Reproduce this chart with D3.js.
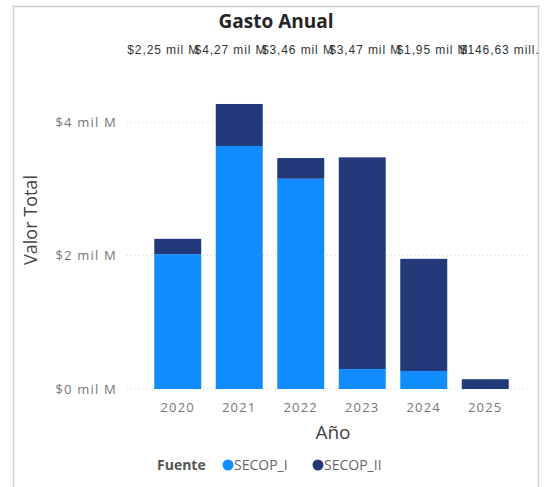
<!DOCTYPE html>
<html>
<head>
<meta charset="utf-8">
<script src="https://cdn.jsdelivr.net/npm/d3@7"></script>
<style>
  html, body { margin: 0; padding: 0; background: #fff; }
  svg { display: block; }
</style>
</head>
<body>
<svg id="chart" width="546" height="487"></svg>
<script>
const years = ["2020", "2021", "2022", "2023", "2024", "2025"];
const secopI = [2.02, 3.64, 3.15, 0.30, 0.27, 0];
const secopII = [0.23, 0.63, 0.31, 3.17, 1.68, 0.14663];
const totalLabels = ["$2,25 mil M", "$4,27 mil M", "$3,46 mil M", "$3,47 mil M", "$1,95 mil M", "$146,63 mill."];
const yTicks = [0, 2, 4];
const yTickLabels = ["$0 mil M", "$2 mil M", "$4 mil M"];
const seriesNames = ["SECOP_I", "SECOP_II"];
const colors = ["#118DFF", "#223A7A"];

const svg = d3.select("#chart");

// frame
svg.append("rect").attr("x", 13.5).attr("y", 6.5).attr("width", 525).attr("height", 500)
  .attr("fill", "none").attr("stroke", "#cfcfcf").attr("stroke-width", 1.5);

const x = d3.scaleBand().domain(years).range([147, 516]).paddingInner(0.236).paddingOuter(0.118);
const y = d3.scaleLinear().domain([0, 4]).range([389, 122]);

// gridlines
svg.append("g").selectAll("line").data(yTicks).join("line")
  .attr("x1", 127).attr("x2", 530)
  .attr("y1", d => y(d)).attr("y2", d => y(d))
  .attr("stroke", "#d6d6d6").attr("stroke-width", 1).attr("stroke-dasharray", "1,3");

// y tick labels
svg.append("g").selectAll("text").data(yTicks).join("text")
  .attr("x", 117).attr("y", d => y(d)).attr("dy", "0.35em")
  .attr("text-anchor", "end")
  .attr("font-family", "'Open Sans', sans-serif").attr("font-size", 13)
  .attr("letter-spacing", 1.2)
  .attr("fill", "#777")
  .text((d, i) => yTickLabels[i]);

// stacked data
const rows = years.map((yr, i) => ({ year: yr, SECOP_I: secopI[i], SECOP_II: secopII[i] }));
const stack = d3.stack().keys(seriesNames)(rows);

svg.append("g").selectAll("g").data(stack).join("g")
  .attr("fill", (d, i) => colors[i])
  .selectAll("rect").data(d => d).join("rect")
  .attr("x", d => x(d.data.year))
  .attr("width", x.bandwidth())
  .attr("y", d => y(d[1]))
  .attr("height", d => Math.max(0, y(d[0]) - y(d[1])));

// total labels (overlapping, as in reference)
svg.append("g").selectAll("text").data(years).join("text")
  .attr("x", (d, i) => x(d) + x.bandwidth() / 2 + (i - 2.5) * 5.8)
  .attr("y", 54)
  .attr("text-anchor", "middle")
  .attr("font-family", "'Liberation Sans', Arial, sans-serif").attr("font-size", 12)
  .attr("letter-spacing", 0.9)
  .attr("fill", "#333")
  .text((d, i) => totalLabels[i]);

// title
svg.append("text").attr("x", 276).attr("y", 28).attr("text-anchor", "middle")
  .attr("font-family", "'Open Sans', sans-serif").attr("font-size", 19).attr("font-weight", "bold")
  .attr("fill", "#252423").text("Gasto Anual");

// x tick labels
svg.append("g").selectAll("text").data(years).join("text")
  .attr("x", d => x(d) + x.bandwidth() / 2).attr("y", 412)
  .attr("text-anchor", "middle")
  .attr("font-family", "'Open Sans', sans-serif").attr("font-size", 13)
  .attr("letter-spacing", 1.2)
  .attr("fill", "#777").text(d => d);

// axis titles
svg.append("text").attr("x", 333).attr("y", 439).attr("text-anchor", "middle")
  .attr("font-family", "'Open Sans', sans-serif").attr("font-size", 19)
  .attr("fill", "#444").text("Año");

svg.append("text").attr("transform", "translate(37,220) rotate(-90)").attr("text-anchor", "middle")
  .attr("font-family", "'Open Sans', sans-serif").attr("font-size", 18)
  .attr("fill", "#444").text("Valor Total");

// legend
const lg = svg.append("g").attr("font-family", "'Open Sans', sans-serif").attr("font-size", 14);
lg.append("text").attr("x", 157).attr("y", 465).attr("dy", "0.35em")
  .attr("font-weight", "bold").attr("fill", "#555").text("Fuente");
const legendX = [228, 318];
seriesNames.forEach((s, i) => {
  lg.append("circle").attr("cx", legendX[i]).attr("cy", 465).attr("r", 5.5).attr("fill", colors[i]);
  lg.append("text").attr("x", legendX[i] + 6).attr("y", 465).attr("dy", "0.35em")
    .attr("fill", "#666").text(s);
});
</script>
</body>
</html>
